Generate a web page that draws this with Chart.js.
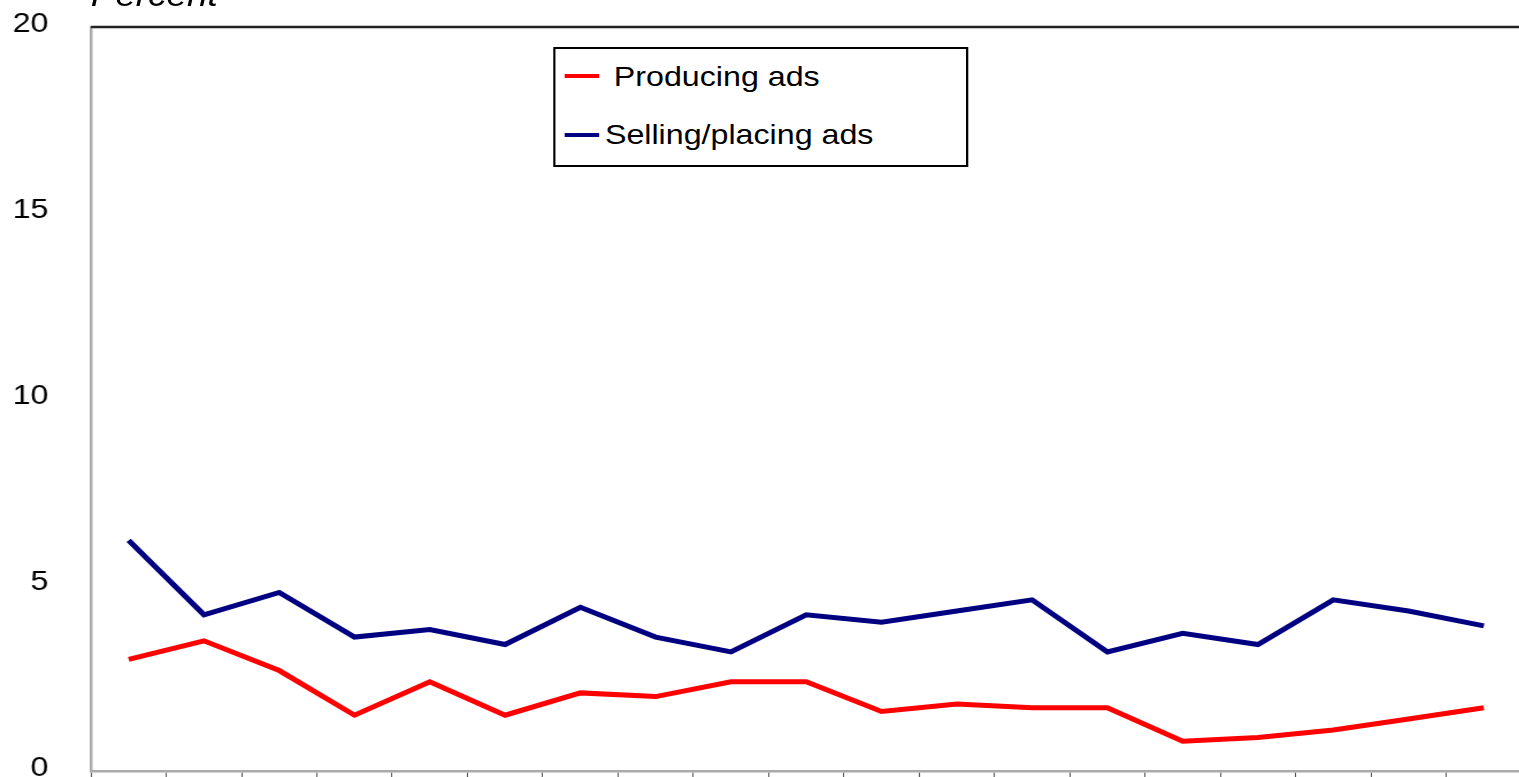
<!DOCTYPE html>
<html>
<head>
<meta charset="utf-8">
<title>Producing vs selling/placing ads</title>
<script src="https://cdn.jsdelivr.net/npm/chart.js@4.4.1/dist/chart.umd.min.js"></script>
<style>
    html, body { margin: 0; padding: 0; background: #fff; overflow: hidden; }
    /* the source picture is stretched sideways, so the whole stage is too */
    #stage {
        position: absolute; left: 0; top: 0;
        width: 1326px; height: 800px;
        transform: scaleX(1.15); transform-origin: 0 0;
        font-family: "Liberation Sans", Arial, sans-serif;
    }
    #percent {
        position: absolute; left: 79px; top: -21px;
        font-size: 32px; line-height: 32px; font-style: italic; color: #000;
    }
    #legend {
        position: absolute; left: 481px; top: 47px;
        width: 361px; height: 120px; box-sizing: border-box;
        border: 2.5px solid #000; background: #fff;
    }
    .swatch { position: absolute; left: 8px; width: 30px; height: 4px; }
    .label {
        position: absolute; left: 43px; white-space: pre;
        font-size: 28px; line-height: 28px; color: #000;
    }
</style>
</head>
<body>
<div id="stage">
    <canvas id="chart" width="1326" height="800"></canvas>
    <div id="percent">Percent</div>
    <div id="legend"></div>
</div>
<script>
// Data (x labels are cropped out of the source)
const categories = ['1', '2', '3', '4', '5', '6', '7', '8', '9', '10',
    '11', '12', '13', '14', '15', '16', '17', '18', '19'];
const seriesLabels = [' Producing ads', 'Selling/placing ads'];
const producingAds = [3.0, 3.5, 2.7, 1.5, 2.4, 1.5, 2.1, 2.0, 2.4, 2.4,
    1.6, 1.8, 1.7, 1.7, 0.8, 0.9, 1.1, 1.4, 1.7];
const sellingAds = [6.2, 4.2, 4.8, 3.6, 3.8, 3.4, 4.4, 3.6, 3.2, 4.2,
    4.0, 4.3, 4.6, 3.2, 3.7, 3.4, 4.6, 4.3, 3.9];
const yTicks = [0, 5, 10, 15, 20];

const colors = ['#ff0000', '#000080'];

// top + right edge of the plot frame
const frameLines = {
    id: 'frameLines',
    afterDatasetsDraw(chart) {
        const { ctx, chartArea: a } = chart;
        ctx.save();
        ctx.strokeStyle = '#222';
        ctx.lineWidth = 2.7;
        ctx.beginPath();
        ctx.moveTo(a.left, a.top);
        ctx.lineTo(a.right, a.top);
        ctx.lineTo(a.right, a.bottom);
        ctx.stroke();
        ctx.restore();
    }
};

const ctx = document.getElementById('chart').getContext('2d');
const chart = new Chart(ctx, {
    type: 'line',
    data: {
        labels: categories,
        datasets: [producingAds, sellingAds].map((values, i) => ({
            label: seriesLabels[i],
            data: values,
            borderColor: colors[i],
            backgroundColor: colors[i],
            borderWidth: 5,
            pointRadius: 0,
            tension: 0,
            fill: false
        }))
    },
    options: {
        responsive: false,
        animation: false,
        layout: { padding: { top: 27, right: 3, left: 0, bottom: 0 } },
        plugins: {
            legend: { display: false },
            tooltip: { enabled: false }
        },
        scales: {
            x: {
                offset: true,
                grid: {
                    display: true,
                    offset: true,
                    drawOnChartArea: false,
                    drawTicks: true,
                    tickLength: 10,
                    color: '#555',
                    lineWidth: 1
                },
                border: { display: true, color: '#aaa', width: 2.5 },
                ticks: { display: false },
                afterFit: (scale) => {
                    scale.height = 29;
                    scale.paddingLeft = 0;
                    scale.paddingRight = 0;
                }
            },
            y: {
                min: 0,
                max: 20,
                afterBuildTicks: (scale) => { scale.ticks = yTicks.map(v => ({ value: v })); },
                grid: { display: true, drawOnChartArea: false, drawTicks: false },
                border: { display: true, color: '#aaa', width: 2.4 },
                ticks: {
                    padding: 37,
                    labelOffset: -3,
                    color: '#000',
                    font: { family: '"Liberation Sans", Arial, sans-serif', size: 28 }
                },
                afterFit: (scale) => {
                    scale.width = 79.13;
                    // labels may spill past the plot edges, the picture is cropped anyway
                    scale.paddingTop = 0;
                    scale.paddingBottom = 0;
                }
            }
        }
    },
    plugins: [frameLines]
});

// boxed legend inside the plot, built from the datasets
function buildLegend() {
    const box = document.getElementById('legend');
    chart.data.datasets.forEach((ds, i) => {
        const swatch = document.createElement('div');
        swatch.className = 'swatch';
        swatch.style.top = (24.5 + i * 59) + 'px';
        swatch.style.background = ds.borderColor;
        box.appendChild(swatch);

        const label = document.createElement('div');
        label.className = 'label';
        label.style.top = (14 + i * 58) + 'px';
        label.textContent = ds.label;
        box.appendChild(label);
    });
}
buildLegend();
</script>
</body>
</html>
